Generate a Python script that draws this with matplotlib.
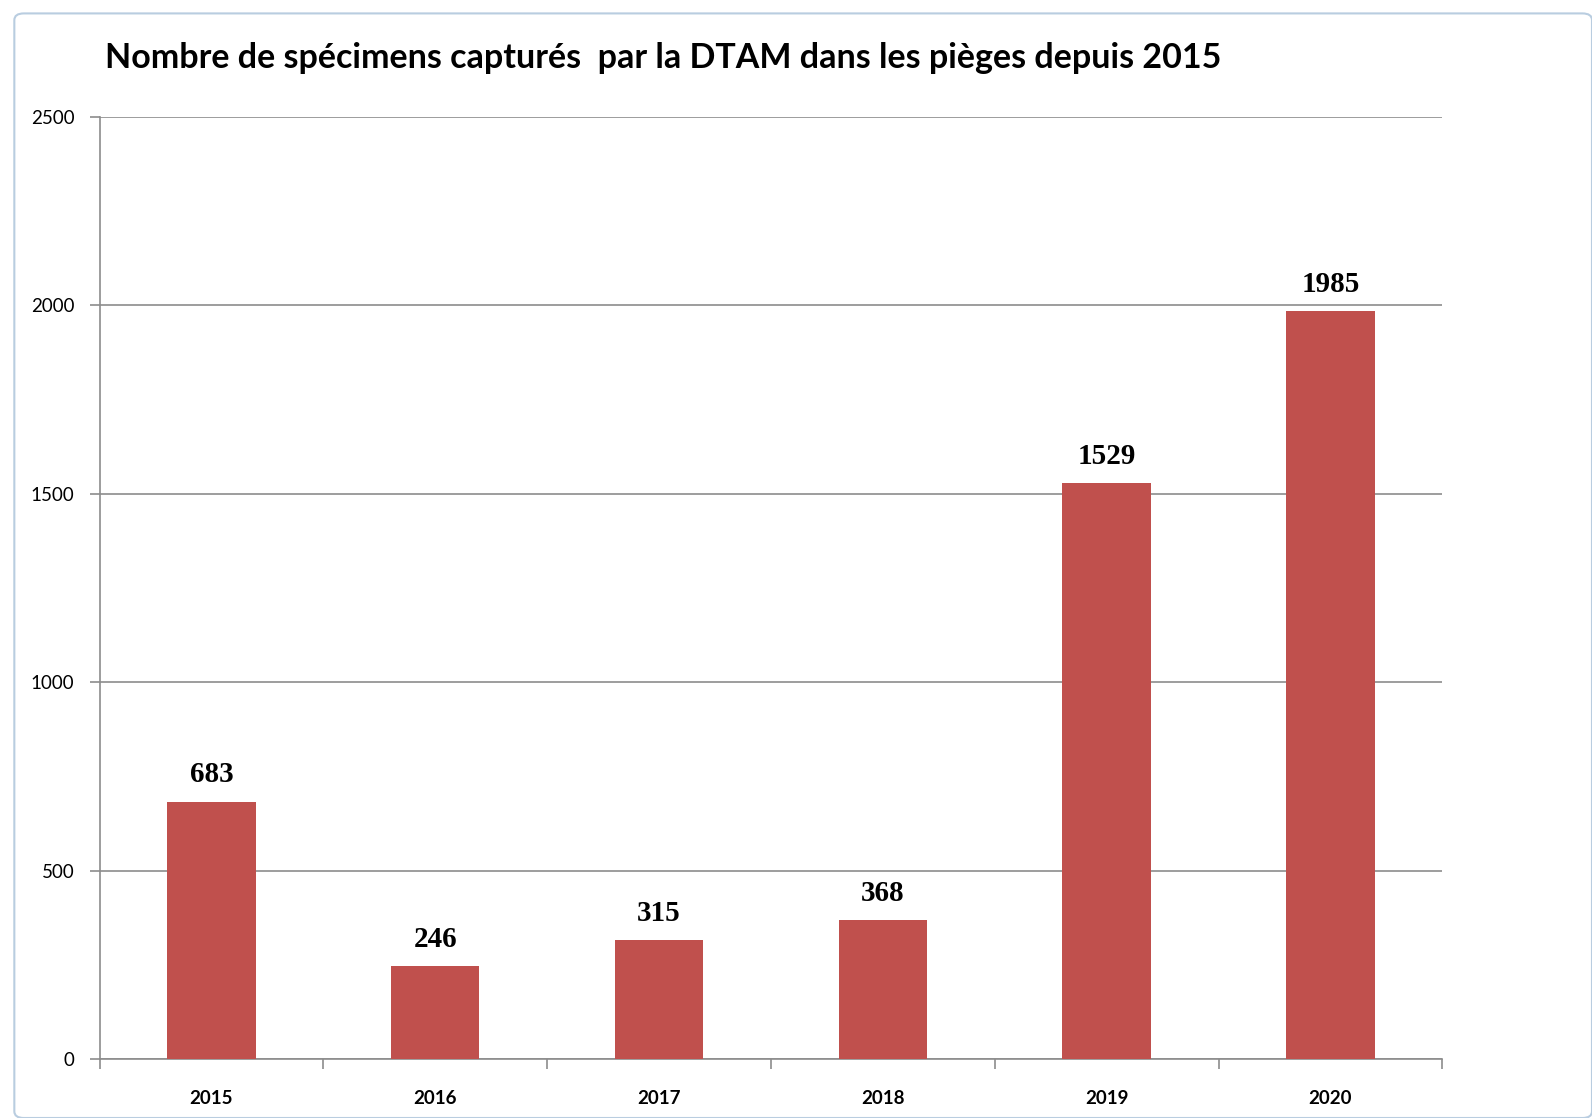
import numpy as np
import matplotlib
matplotlib.use("Agg")
import matplotlib.pyplot as plt
from matplotlib.patches import FancyBboxPatch

years  = ["2015", "2016", "2017", "2018", "2019", "2020"]
counts = [683, 246, 315, 368, 1529, 1985]
yticks = [0, 500, 1000, 1500, 2000, 2500]
title  = "Nombre de spécimens capturés  par la DTAM dans les pièges depuis 2015"

fig = plt.figure(figsize=(15.92, 11.18), dpi=100)
ax = fig.add_axes([0.0625, 0.0528, 0.8435, 0.8425])

# ── outer chart frame ─────────────────────────────
frame = FancyBboxPatch((0.009, 0.0), 0.991, 0.988,
                       boxstyle="round,pad=0,rounding_size=0.006",
                       transform=fig.transFigure, fill=False,
                       edgecolor="#b9cde0", lw=1.5, clip_on=False)
fig.patches.append(frame)

x = np.arange(len(years))
ax.bar(x, counts, width=0.395, color="#c0504d", zorder=3)

for xi, v in zip(x, counts):
    ax.text(xi, v + 35, str(v), ha="center", va="bottom",
            family="Liberation Serif", fontweight="bold", fontsize=21)

ax.set_xlim(-0.5, len(years) - 0.5)
ax.set_ylim(0, 2500)
ax.set_yticks(yticks)
ax.set_yticklabels([str(t) for t in yticks], family="Lato", fontsize=13.5)
ax.yaxis.grid(True, color="#8c8c8c", lw=1.2, zorder=0)

# category boundaries as ticks, labels at centers
ax.set_xticks(np.arange(len(years) + 1) - 0.5)
ax.set_xticklabels([])
ax.set_xticks(x, minor=True)
ax.set_xticklabels(years, minor=True, family="Lato", fontweight="bold",
                   fontsize=13.5)
ax.tick_params(axis="x", which="minor", length=0, pad=22)
ax.tick_params(axis="x", which="major", length=7, color="#8c8c8c", width=1.2)
ax.tick_params(axis="y", length=7, color="#8c8c8c", width=1.2, pad=11)

for side in ["top", "right"]:
    ax.spines[side].set_visible(False)
for side in ["left", "bottom"]:
    ax.spines[side].set_color("#8c8c8c")
    ax.spines[side].set_linewidth(1.2)

fig.text(0.066, 0.948, title, family="Lato", fontweight="bold",
         fontsize=24.5, ha="left", va="center")

plt.savefig("out.png", dpi=100)
plt.close()
